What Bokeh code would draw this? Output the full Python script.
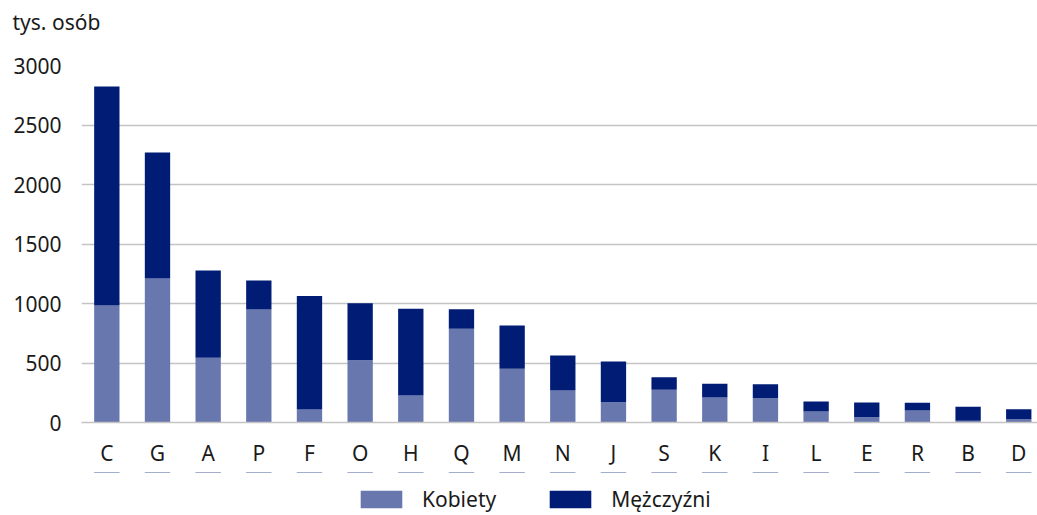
from bokeh.plotting import figure
from bokeh.models import ColumnDataSource, Range1d, FixedTicker, Legend, LegendItem, Title
from bokeh.layouts import column
from bokeh.embed import file_html
from bokeh.resources import INLINE

categories = ["C", "G", "A", "P", "F", "O", "H", "Q", "M", "N", "J", "S", "K", "I", "L", "E", "R", "B", "D"]
kobiety = [983, 1210, 544, 950, 109, 524, 227, 787, 451, 269, 171, 275, 210, 204, 92, 45, 101, 14, 28]
mezczyzni = [1841, 1059, 733, 243, 955, 479, 728, 165, 364, 294, 342, 106, 115, 118, 84, 123, 64, 118, 84]
y_ticks = [0, 500, 1000, 1500, 2000, 2500, 3000]
series_labels = ["Kobiety", "Mężczyźni"]

FONT = "Noto Sans"
FS = "21px"
TXT = "#1a1a1a"
C_K = "#6878AE"
C_M = "#001C74"
GRID = "#C4C4C4"

xs = list(range(len(categories)))
src = ColumnDataSource(dict(x=xs, kobiety=kobiety, mezczyzni=mezczyzni))

p = figure(frame_width=956, frame_height=357, output_backend="svg", toolbar_location=None,
           x_range=Range1d(-0.5, 18.37), y_range=Range1d(0, 3000),
           min_border_left=81, min_border_right=0, min_border_top=65, min_border_bottom=50,
           title=None)
p.outline_line_color = None

rs = p.vbar_stack(["kobiety", "mezczyzni"], x="x", width=0.5, source=src,
                  color=[C_K, C_M], line_color=None)

p.add_layout(Title(text=" ", text_font_size=FS, standoff=0), "above")
p.add_layout(Title(text="tys. osób", text_font=FONT, text_font_size=FS, text_font_style="normal",
                   text_color=TXT, align="left", offset=-69, standoff=10), "above")

p.xaxis.ticker = FixedTicker(ticks=xs)
p.xaxis.major_label_overrides = {i: c for i, c in enumerate(categories)}
p.yaxis.ticker = FixedTicker(ticks=y_ticks)

for ax in (p.xaxis[0], p.yaxis[0]):
    ax.major_label_text_font = FONT
    ax.major_label_text_font_size = FS
    ax.major_label_text_color = TXT
    ax.major_tick_line_color = None
    ax.minor_tick_line_color = None
p.yaxis.axis_line_color = None
p.xaxis.axis_line_color = GRID
p.xaxis.axis_line_width = 1.5
p.yaxis.major_label_standoff = 14
p.xaxis.major_label_standoff = 10

p.xgrid.grid_line_color = None
p.ygrid.grid_line_color = GRID
p.ygrid.grid_line_width = 1.5

# legend strip below the chart (its bars lie outside its visible y range; only swatches show)
lg = figure(width=1037, height=42, output_backend="svg", toolbar_location=None,
            x_range=Range1d(-0.5, 18.37), y_range=Range1d(-2, -1),
            x_axis_location=None, y_axis_location=None, min_border=0)
lg.outline_line_color = None
lg.xgrid.visible = False
lg.ygrid.visible = False
d1 = lg.vbar(x="x", top="kobiety", width=0.5, source=src, color=C_K, line_color=None)
d2 = lg.vbar(x="x", top="mezczyzni", width=0.5, source=src, color=C_M, line_color=None)

legend = Legend(items=[LegendItem(label=series_labels[0], renderers=[d1]),
                       LegendItem(label=series_labels[1], renderers=[d2])],
                orientation="horizontal", location=(274, 1),
                glyph_width=52, glyph_height=22, label_standoff=15, spacing=48,
                label_text_font=FONT, label_text_font_size=FS, label_text_color=TXT,
                border_line_color=None, background_fill_alpha=0, padding=0, margin=0)
lg.add_layout(legend, "center")

layout = column(p, lg, spacing=0)
open("out.html", "w").write(file_html(layout, INLINE))
